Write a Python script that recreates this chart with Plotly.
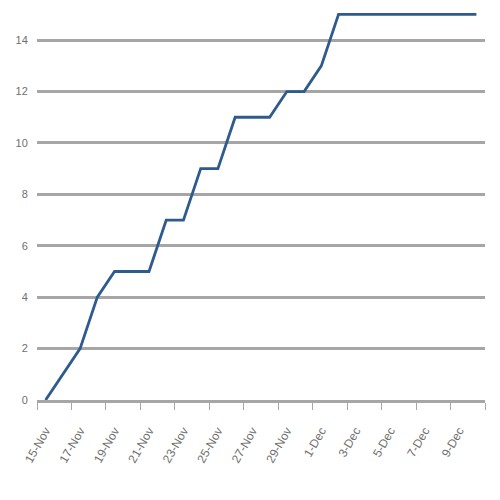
import plotly.graph_objects as go

dates = ["15-Nov", "16-Nov", "17-Nov", "18-Nov", "19-Nov", "20-Nov", "21-Nov", "22-Nov",
         "23-Nov", "24-Nov", "25-Nov", "26-Nov", "27-Nov", "28-Nov", "29-Nov", "30-Nov",
         "1-Dec", "2-Dec", "3-Dec", "4-Dec", "5-Dec", "6-Dec", "7-Dec", "8-Dec", "9-Dec", "10-Dec"]
values = [0, 1, 2, 4, 5, 5, 5, 7, 7, 9, 9, 11, 11, 11, 12, 12, 13, 15,
          15, 15, 15, 15, 15, 15, 15, 15]
y_ticks = [0, 2, 4, 6, 8, 10, 12, 14]

fig = go.Figure()
fig.add_trace(go.Scatter(
    x=dates, y=values, mode="lines",
    line=dict(color="#2e5b8e", width=2.8),
    hoverinfo="skip",
))

fig.update_layout(
    width=492, height=492,
    margin=dict(l=29, r=15, t=0, b=100, autoexpand=False),
    paper_bgcolor="white", plot_bgcolor="white",
    showlegend=False,
    font=dict(family="Liberation Sans, Arial, sans-serif", size=11, color="#707070"),
)
fig.update_xaxes(
    type="category", range=[-0.5, 25.5],
    tickmode="linear", tick0=0, dtick=2,
    tickson="boundaries",
    tickangle=-60,
    tickfont=dict(size=12),
    ticklabelstandoff=16,
    showgrid=False,
    showline=True, linecolor="#a6a6a6", linewidth=3,
    ticks="outside", ticklen=7, tickcolor="#a6a6a6", tickwidth=1,
    zeroline=False, automargin=False,
)
fig.update_yaxes(
    range=[0, 15.25],
    tickvals=y_ticks,
    showgrid=True, gridcolor="#a6a6a6", gridwidth=3,
    zeroline=False, showline=False,
    ticks="outside", ticklen=6, tickcolor="rgba(0,0,0,0)",
    automargin=False,
)

fig.write_html("out.html")
